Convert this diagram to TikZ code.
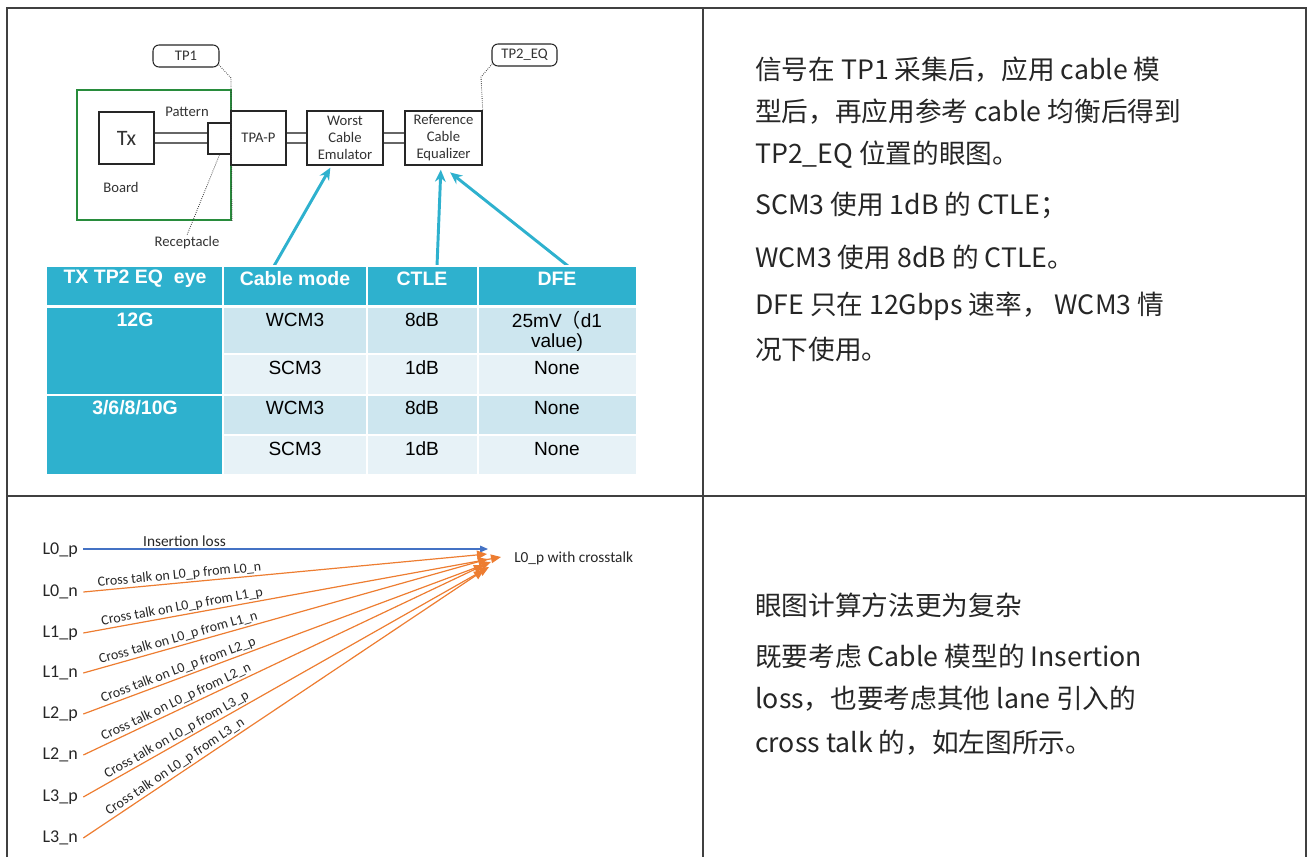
\documentclass[tikz,border=0pt]{standalone}
\usepackage{fontspec}
\setmainfont{Liberation Sans}
\newfontfamily\cjkf{Noto Sans CJK SC}
\newfontfamily\calib{Carlito}
\usetikzlibrary{arrows.meta,calc}
\definecolor{tcyan}{RGB}{46,177,206}
\definecolor{tlight}{RGB}{205,230,239}
\definecolor{tlighter}{RGB}{231,242,247}
\definecolor{bgreen}{RGB}{40,140,60}
\definecolor{ocol}{RGB}{237,125,49}
\definecolor{bcol}{RGB}{68,114,196}
\begin{document}
\begin{tikzpicture}[x=0.75pt,y=-0.75pt,
  frame/.style={draw=black!75,line width=1.2pt},
  blk/.style={draw=black!85,fill=white,line width=1.1pt,inner sep=0pt,align=center,font=\calib\fontsize{11}{12.8}\selectfont,text=black!80},
  wire/.style={draw=black!60,line width=1.1pt},
  lbl/.style={inner sep=1pt,font=\calib\fontsize{11}{12.8}\selectfont,text=black!80},
  callout/.style={draw=black!85,fill=white,rounded corners=4.5pt,line width=0.8pt,inner sep=0pt,font=\calib\fontsize{11}{12.8}\selectfont,text=black!80},
  dots/.style={densely dotted,line width=0.6pt,draw=black!80},
  carr/.style={draw=tcyan,line width=2.2pt,-{Stealth[length=9pt,width=8pt]}},
  hcell/.style={font=\bfseries\fontsize{14.6}{16}\selectfont,text=white,inner sep=0pt},
  dcell/.style={font=\fontsize{14.3}{17}\selectfont,text=black,inner sep=0pt,align=center},
  tcellbox/.style={draw=white,line width=1.3pt},
  lane/.style={anchor=west,inner xsep=4pt,inner ysep=1pt,font=\calib\fontsize{13.5}{15}\selectfont,text=black!85},
  oline/.style={draw=ocol,line width=0.9pt,-{Triangle[length=7.5pt,width=6.5pt]}},
  bline/.style={draw=bcol,line width=0.9pt,-{Triangle[length=6pt,width=5pt]}},
  xtlk/.style={sloped,above=1pt,pos=0.24,inner sep=0pt,font=\calib\fontsize{10.5}{12}\selectfont,text=black!85},
  rt/.style={anchor=west,inner sep=0pt,font=\cjkf\fontsize{20}{22}\selectfont,text=black!85}
]
\useasboundingbox (0,0) rectangle (1309,857);

% outer table frame
\draw[frame] (7,857) -- (7,8) -- (1306,8) -- (1306,857);
\draw[frame] (703,8) -- (703,857);
\draw[frame] (7,496) -- (1306,496);

% ---------- top-left block diagram ----------
\node[draw=bgreen,line width=1.5pt,minimum width=115.5pt,minimum height=97.5pt,inner sep=0pt] (board) at (154,155) {};
\node[blk,minimum width=41.25pt,minimum height=39pt,font=\calib\fontsize{16.5}{18}\selectfont] (Tx) at (126.5,138) {Tx};
\node[blk,minimum width=17.25pt,minimum height=23.25pt] (rc) at (219.5,138.5) {};
\node[blk,minimum width=41.25pt,minimum height=40.5pt] (TPA) at (258.5,138) {TPA-P};
\node[blk,minimum width=57pt,minimum height=40.5pt] (W) at (345,138) {Worst\\Cable\\Emulator};
\node[blk,minimum width=57.75pt,minimum height=40.5pt] (R) at (443.5,138) {Reference\\Cable\\Equalizer};

\foreach \s in {3.75pt,-3.75pt}{
  \draw[wire] ([yshift=\s]Tx.east) -- ([yshift=\s]Tx.east -| rc.west);
  \draw[wire] ([yshift=\s]TPA.east) -- ([yshift=\s]W.west);
  \draw[wire] ([yshift=\s]W.east) -- ([yshift=\s]R.west);
}

\node[lbl] (pat) at (187,112) {Pattern};
\node[lbl] (brd) at (121,187) {Board};
\node[lbl] (recl) at (187,243) {Receptacle};
\node[callout,minimum width=49.5pt,minimum height=16.5pt] (TP1) at (186,56) {TP1};
\node[callout,minimum width=48.75pt,minimum height=16.5pt] (TP2) at (524.5,55) {TP2\_EQ};
\coordinate (k1) at (231,78);
\coordinate (k2) at (481,77);
\draw[dots] ([xshift=-0.5pt,yshift=2pt]TP1.south east) -- (k1) -- (board.south east);
\draw[dots] ([xshift=0.5pt,yshift=2pt]TP2.south west) -- (k2) -- (R.north east);
\draw[dots] (rc.south) -- (recl.north);

% cyan arrows
\coordinate (s1) at (274,266);
\coordinate (s2) at (437,266);
\coordinate (s3) at (568,266);
\draw[carr] (s1) -- ([xshift=-11pt,yshift=-1.5pt]W.south);
\draw[carr] (s2) -- ([xshift=-2pt,yshift=-3pt]R.south);
\draw[carr] (s3) -- ([xshift=5pt,yshift=-5pt]R.south);

% ---------- table ----------
\path[tcellbox,fill=tcyan] (46,266) rectangle (223,306);
\path[tcellbox,fill=tcyan] (223,266) rectangle (367,306);
\path[tcellbox,fill=tcyan] (367,266) rectangle (478,306);
\path[tcellbox,fill=tcyan] (478,266) rectangle (637,306);
\path[tcellbox,fill=tcyan] (46,307) rectangle (223,395);
\path[tcellbox,fill=tcyan] (46,395) rectangle (223,475);
\foreach \xa/\xb in {223/367,367/478,478/637}{
  \path[tcellbox,fill=tlight] (\xa,307) rectangle (\xb,354);
  \path[tcellbox,fill=tlighter] (\xa,354) rectangle (\xb,395);
  \path[tcellbox,fill=tlight] (\xa,395) rectangle (\xb,435);
  \path[tcellbox,fill=tlighter] (\xa,435) rectangle (\xb,475);
}
\node[hcell] (h1) at (135,279) {TX TP2 EQ\ \ eye};
\node[hcell] (h2) at (295,279) {Cable mode};
\node[hcell] (h3) at (422,279) {CTLE};
\node[hcell] (h4) at (557,279) {DFE};
\node[hcell] (r1) at (135,320) {12G};
\node[hcell] (r3) at (135,408) {3/6/8/10G};
\node[dcell] (c12) at (295,320) {WCM3};
\node[dcell] (c13) at (422,320) {8dB};
\node[dcell] (c14a) at (557,320) {25mV{\cjkf\fontsize{14.3}{17}\selectfont （}d1};
\node[dcell] (c14b) at (557,343) {value)};
\node[dcell] (c22) at (295,368) {SCM3};
\node[dcell] (c23) at (422,368) {1dB};
\node[dcell] (c24) at (557,368) {None};
\node[dcell] (c32) at (295,408) {WCM3};
\node[dcell] (c33) at (422,408) {8dB};
\node[dcell] (c34) at (557,408) {None};
\node[dcell] (c42) at (295,449) {SCM3};
\node[dcell] (c43) at (422,449) {1dB};
\node[dcell] (c44) at (557,449) {None};

% ---------- top-right text ----------
\node[rt] (t1) at (755,70) {信号在 TP1 采集后，应用 cable 模};
\node[rt] (t2) at (755,112) {型后，再应用参考 cable 均衡后得到};
\node[rt] (t3) at (755,155) {TP2\_EQ 位置的眼图。};
\node[rt] (t4) at (755,205) {SCM3 使用 1dB 的 CTLE；};
\node[rt] (t5) at (755,257) {WCM3 使用 8dB 的 CTLE。};
\node[rt] (t6) at (755,306) {DFE 只在 12Gbps 速率， WCM3 情};
\node[rt] (t7) at (755,349) {况下使用。};

% ---------- bottom-left crosstalk diagram ----------
\node[lane] (L0p) at (37,550) {L0\_p};
\node[lane] (L0n) at (37,592) {L0\_n};
\node[lane] (L1p) at (37,633) {L1\_p};
\node[lane] (L1n) at (37,673) {L1\_n};
\node[lane] (L2p) at (37,714) {L2\_p};
\node[lane] (L2n) at (37,755) {L2\_n};
\node[lane] (L3p) at (37,797) {L3\_p};
\node[lane] (L3n) at (37,838) {L3\_n};
\node[anchor=west,inner sep=0pt,font=\calib\fontsize{11.5}{13}\selectfont,text=black!85] (out) at (514,558) {L0\_p with crosstalk};

\coordinate (e0) at (488,549);
\coordinate (e1) at (487,554);
\coordinate (e2) at (501,557);
\coordinate (e3) at (488,559);
\coordinate (e4) at (491,562);
\coordinate (e5) at (484,565);
\coordinate (e6) at (489,567);
\coordinate (e7) at (484,570);

\draw[bline] (L0p.east |- e0) -- node[above=1pt,pos=0.25,inner sep=0.5pt,font=\calib\fontsize{11.5}{13}\selectfont,text=black!85] {Insertion loss} (e0);
\draw[oline] (L0n.east) -- node[xtlk] {Cross talk on L0\_p from L0\_n} (e1);
\draw[oline] (L1p.east) -- node[xtlk] {Cross talk on L0\_p from L1\_p} (e2);
\draw[oline] (L1n.east) -- node[xtlk] {Cross talk on L0\_p from L1\_n} (e3);
\draw[oline] (L2p.east) -- node[xtlk] {Cross talk on L0\_p from L2\_p} (e4);
\draw[oline] (L2n.east) -- node[xtlk] {Cross talk on L0\_p from L2\_n} (e5);
\draw[oline] (L3p.east) -- node[xtlk] {Cross talk on L0\_p from L3\_p} (e6);
\draw[oline] (L3n.east) -- node[xtlk] {Cross talk on L0\_p from L3\_n} (e7);

% ---------- bottom-right text ----------
\node[rt] (b1) at (755,605) {眼图计算方法更为复杂};
\node[rt] (b2) at (755,656) {既要考虑 Cable 模型的 Insertion};
\node[rt] (b3) at (755,699) {loss，也要考虑其他 lane 引入的};
\node[rt] (b4) at (755,743) {cross talk 的，如左图所示。};
\end{tikzpicture}
\end{document}
